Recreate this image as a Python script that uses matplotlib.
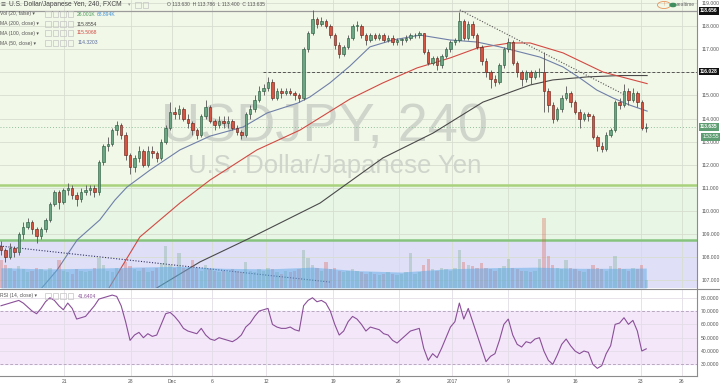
import numpy as np
import matplotlib
matplotlib.use("Agg")
import matplotlib.pyplot as plt
import matplotlib.transforms as mtrans
from matplotlib.patches import Rectangle, Circle

plt.rcParams['font.family'] = ['Liberation Sans', 'DejaVu Sans']

# USDJPY 240 - velas
first_open = 108.5
closes = [108.3, 108.0, 108.4, 108.2, 109.0, 109.3, 109.5, 109.2, 108.9, 109.2,
          109.6, 110.3, 110.8, 110.4, 110.9, 111.0, 110.7, 110.5, 110.8, 110.9,
          111.0, 110.8, 112.1, 112.8, 112.9, 113.5, 113.7, 113.3, 112.4, 111.9,
          112.3, 112.6, 112.0, 112.6, 112.5, 112.3, 113.0, 113.6, 114.3, 114.2,
          114.4, 114.0, 113.8, 113.5, 113.3, 114.1, 114.5, 113.9, 113.7, 113.9,
          113.8, 113.9, 113.6, 113.4, 113.3, 114.2, 114.4, 114.8, 115.2, 115.3,
          115.6, 114.9, 115.2, 115.1, 115.2, 115.1, 115.0, 114.9, 117.0, 117.7,
          118.3, 118.1, 118.2, 118.0, 117.6, 117.2, 116.8, 117.1, 117.5, 118.0,
          118.0, 117.6, 117.4, 117.6, 117.5, 117.6, 117.4, 117.5, 117.3, 117.4,
          117.4, 117.5, 117.6, 117.6, 117.7, 116.9, 116.4, 116.6, 116.3, 116.7,
          117.0, 117.3, 117.4, 118.2, 117.5, 118.1, 117.6, 117.1, 116.5, 116.0,
          115.7, 115.6, 116.3, 117.0, 117.3, 116.4, 116.0, 115.7, 116.0, 115.8,
          116.0, 116.0, 115.2, 114.6, 114.0, 114.4, 114.9, 115.1, 114.7, 114.3,
          114.0, 114.2, 114.1, 113.2, 112.8, 112.7, 113.3, 113.5, 114.7, 114.6,
          115.2, 114.8, 115.1, 114.7, 113.6, 113.635]
highs = [108.7, 108.4, 108.6, 108.5, 109.1, 109.5, 109.7, 109.6, 109.3, 109.3,
         109.7, 110.4, 110.9, 110.9, 111.0, 111.2, 111.1, 110.8, 111.0, 111.1,
         111.1, 111.1, 112.2, 112.9, 113.2, 113.6, 113.9, 113.8, 113.4, 112.5,
         112.4, 112.8, 112.7, 112.8, 112.8, 112.6, 113.1, 113.7, 114.7, 114.5,
         114.6, 114.5, 114.2, 113.9, 113.6, 114.2, 114.8, 114.6, 114.0, 114.1,
         114.1, 114.1, 114.0, 113.7, 113.5, 114.3, 114.6, 115.0, 115.4, 115.5,
         115.8, 115.7, 115.3, 115.3, 115.3, 115.3, 115.2, 115.1, 117.1, 117.8,
         118.7, 118.4, 118.4, 118.3, 118.1, 117.7, 117.3, 117.2, 117.6, 118.1,
         118.2, 118.1, 117.7, 117.7, 117.7, 117.7, 117.7, 117.6, 117.6, 117.5,
         117.5, 117.6, 117.7, 117.7, 117.8, 117.7, 117.0, 116.7, 116.7, 116.8,
         117.1, 117.4, 117.5, 118.6, 118.3, 118.2, 118.2, 117.7, 117.2, 116.6,
         116.1, 115.9, 116.4, 117.1, 117.5, 117.4, 116.5, 116.1, 116.1, 116.1,
         116.1, 116.2, 116.9, 115.3, 114.7, 114.5, 115.0, 115.4, 115.2, 114.8,
         114.4, 114.3, 114.3, 114.2, 113.3, 113.0, 113.4, 113.6, 114.8, 114.9,
         115.5, 115.3, 115.3, 115.2, 114.8, 113.786]
lows = [108.1, 107.8, 107.9, 108.0, 108.1, 108.8, 109.2, 109.0, 108.6, 108.8,
        109.1, 109.5, 110.2, 110.1, 110.3, 110.7, 110.5, 110.2, 110.4, 110.7,
        110.7, 110.6, 110.7, 112.0, 112.6, 112.8, 113.3, 113.1, 112.2, 111.6,
        111.7, 112.1, 111.9, 111.9, 112.3, 112.1, 112.2, 112.9, 113.5, 114.0,
        114.0, 113.9, 113.6, 113.3, 113.1, 113.2, 114.0, 113.8, 113.5, 113.6,
        113.6, 113.6, 113.5, 113.3, 113.1, 113.2, 114.0, 114.3, 114.7, 115.0,
        115.2, 114.8, 114.8, 114.9, 115.0, 115.0, 114.8, 114.7, 114.8, 116.9,
        117.6, 117.9, 118.0, 117.9, 117.5, 117.0, 116.6, 116.7, 117.0, 117.4,
        117.8, 117.5, 117.2, 117.3, 117.4, 117.4, 117.3, 117.3, 117.2, 117.2,
        117.2, 117.3, 117.4, 117.5, 117.5, 116.8, 116.3, 116.3, 116.1, 116.2,
        116.6, 116.9, 117.2, 117.3, 117.4, 117.4, 117.5, 117.0, 116.3, 115.8,
        115.3, 115.4, 115.5, 116.2, 116.9, 116.3, 115.8, 115.4, 115.6, 115.5,
        115.7, 115.8, 114.3, 114.3, 113.8, 113.9, 114.3, 114.8, 114.5, 114.2,
        113.6, 113.9, 113.9, 113.1, 112.6, 112.55, 112.6, 113.2, 113.4, 114.4,
        114.5, 114.6, 114.7, 114.5, 113.5, 113.4]

# volumen en miles
volume_k = [95, 80, 70, 60, 75, 65, 55, 60, 70, 65,
            60, 70, 55, 95, 60, 55, 50, 65, 60, 55,
            60, 70, 105, 80, 60, 55, 70, 65, 90, 75,
            65, 60, 70, 55, 60, 70, 85, 145, 80, 70,
            120, 70, 65, 95, 70, 60, 80, 65, 60, 55,
            60, 55, 65, 60, 55, 90, 60, 55, 65, 60,
            70, 65, 55, 50, 60, 55, 60, 65, 130, 105,
            80, 70, 60, 90, 65, 70, 60, 55, 60, 65,
            60, 55, 50, 55, 50, 45, 50, 55, 50, 45,
            50, 55, 120, 50, 55, 80, 100, 65, 60, 70,
            65, 60, 70, 130, 90, 80, 75, 70, 85, 70,
            65, 60, 70, 75, 100, 70, 65, 60, 60, 55,
            60, 100, 240, 110, 80, 70, 65, 95, 70, 65,
            60, 55, 65, 80, 70, 65, 60, 75, 110, 70,
            65, 60, 70, 65, 80, 26]
vol_ma_at = [0, 10, 20, 30, 40, 50, 60, 70, 80, 90, 100, 110, 120, 130, 140, 145]
vol_ma = [70, 66, 68, 72, 75, 68, 66, 72, 60, 55, 66, 70, 72, 68, 68, 68.9]

rsi = [74, 75, 76, 77, 78, 76, 73, 70, 68, 72,
       77, 80, 78, 74, 71, 76, 72, 64, 65, 66,
       70, 74, 79, 80, 81, 82, 81, 74, 62, 48,
       52, 54, 50, 53, 51, 52, 60, 68, 69, 66,
       62, 57, 55, 54, 53, 57, 52, 49, 48, 50,
       49, 48, 47, 49, 52, 58, 61, 66, 70, 71,
       72, 60, 58, 57, 57, 58, 56, 55, 74, 78,
       80, 77, 78, 76, 70, 60, 52, 55, 62, 66,
       64, 60, 55, 58, 57, 56, 53, 52, 48, 46,
       49, 52, 55, 56, 57, 42, 33, 38, 35, 42,
       50, 58, 62, 76, 64, 72, 62, 52, 42, 32,
       36, 38, 48, 60, 64, 52, 45, 43, 47, 46,
       49, 50, 40, 33, 30, 37, 45, 49, 44, 40,
       38, 40, 39, 30, 27, 29, 38, 44, 60, 61,
       65, 60, 63, 55, 40, 41.64]

# medias moviles (indice de vela, precio)
ma50_at = [7.6, 12.6, 17.1, 22.2, 25.6, 28.3, 33.5, 40.2, 47.0, 54.4, 59.8, 66.7, 69.4, 73.9,
           78.4, 82.9, 88.1, 94.2, 100.9, 107.0, 112.1, 116.6, 121.1, 126.3, 130.1, 133.9,
           137.5, 141.3, 145.2]
ma50 = [106.31, 107.44, 108.74, 109.61, 110.47, 111.03, 111.77, 112.64, 113.24, 113.63, 114.24,
        114.67, 114.93, 115.54, 116.27, 117.10, 117.40, 117.61, 117.40, 117.31, 117.10, 116.88,
        116.66, 116.23, 115.75, 115.23, 114.89, 114.58, 114.32]
ma100_at = [24.0, 31.2, 40.2, 47.0, 57.5, 67.2, 78.4, 85.8, 93.5, 100.9, 107.0, 114.4, 118.9,
            126.3, 135.3, 145.2]
ma100 = [106.58, 108.87, 110.34, 111.34, 112.64, 113.50, 114.84, 115.54, 116.19, 116.62, 117.05,
         117.27, 117.27, 116.84, 116.01, 115.51]
ma200_at = [33.5, 44.7, 56.0, 71.7, 85.8, 97.1, 108.3, 118.9, 124.0, 131.7, 139.1, 145.2]
ma200 = [106.49, 107.79, 108.83, 110.34, 112.29, 113.37, 114.71, 115.45, 115.67, 115.80,
         115.86, 115.86]

# dibujos: lineas de tendencia y niveles
trend_down_at = [103.1, 140.2]
trend_down = [118.70, 115.02]
trend_low_at = [-0.2, 73.9]
trend_low = [108.48, 106.92]
level_dashed = 116.028
level_dashed_from = 58.9
level_top = 118.656
last_close = 113.635
zone_top = 111.12
zone_bottom = 108.74

price_ticks = [119, 118, 117, 115, 114, 113, 112, 111, 110, 109, 108, 107]
rsi_ticks = [80, 70, 60, 50, 40, 30]
time_pos = [14.2, 29.2, 38.4, 47.4, 59.6, 74.6, 89.4, 101.3, 113.9, 129.0, 143.8, 153.0]
time_labels = ['21', '28', 'Dec', '6', '12', '19', '26', '2017', '9', '16', '23', '26']

W, H = 720, 384
fig = plt.figure(figsize=(7.2, 3.84), dpi=100)
fig.patch.set_facecolor('white')


def fx(px):
    return px / W


def fy(py):
    return 1 - py / H


x_lim = (-1 / 4.45, 696 / 4.45)
ax = fig.add_axes([0, fy(288), fx(697), 288 / H])
ax_rsi = fig.add_axes([0, fy(376), fx(697), (376 - 289) / H])

n = len(closes)
idx = np.arange(n)
opens = np.array([first_open] + closes[:-1])
closes_a = np.array(closes)
up = closes_a >= opens

# ---- panel principal ----
ax.set_xlim(*x_lim)
ax.set_ylim(119.13 - 288 / 23.1, 119.13)
ax.axhspan(zone_top, 120, color='#f2f8e8', zorder=0)
ax.axhspan(zone_bottom, zone_top, color='#e7f6e5', zorder=0)
ax.axhspan(100, zone_bottom, color='#dfe0f8', zorder=0)
for t in time_pos:
    ax.axvline(t, color='#d7ddd0', lw=0.6, zorder=0.5)
    ax_rsi.axvline(t, color='#e2dde6', lw=0.6, zorder=0.5)
for p in range(107, 120):
    ax.axhline(p, color='#d7ddd0', lw=0.6, zorder=0.5)
ax.axhline(zone_top, color='#a9d27c', lw=1.8, zorder=1)
ax.axhline(zone_bottom, color='#86c47e', lw=1.8, zorder=1)

ax.text(0.465, 0.56, 'USDJPY, 240', transform=ax.transAxes, fontsize=39, color='#cfd5cb',
        ha='center', va='center', zorder=0.6)
ax.text(0.48, 0.425, 'U.S. Dollar/Japanese Yen', transform=ax.transAxes, fontsize=18.5,
        color='#cfd5cb', ha='center', va='center', zorder=0.6)

# volumen sobre eje gemelo
axv = ax.twinx()
axv.set_ylim(0, 994)
axv.set_xlim(*x_lim)
vcol = np.where(up, '#6ba583', '#d75442')
axv.bar(idx, volume_k, width=0.75, color=vcol, alpha=0.3, zorder=1)
axv.fill_between(idx, 0, np.interp(idx, vol_ma_at, vol_ma), color='#5aaae6', alpha=0.5, lw=0,
                 zorder=2)
axv.axis('off')

ax.plot(ma200_at, ma200, color='#4a4a4a', lw=0.8, zorder=3)
ax.plot(ma100_at, ma100, color='#d24a43', lw=0.8, zorder=3)
ax.plot(ma50_at, ma50, color='#6f7fa8', lw=0.8, zorder=3)

ax.axhline(level_top, color='#9b9b9b', lw=0.9, zorder=2)
ax.plot([level_dashed_from, x_lim[1]], [level_dashed, level_dashed], color='#555555', lw=0.7,
        ls=(0, (3, 2)), zorder=2)
ax.axhline(last_close, color='#8fbf9a', lw=0.7, ls=(0, (1, 2)), zorder=2)
ax.plot(trend_down_at, trend_down, color='#555555', lw=0.8, ls=(0, (1, 1.5)), zorder=3)
ax.plot(trend_low_at, trend_low, color='#333366', lw=0.8, ls=(0, (1, 1.5)), zorder=3)

body_lo = np.minimum(opens, closes_a)
body_h = np.maximum(np.abs(closes_a - opens), 0.03)
ax.vlines(idx, lows, highs, color='#555555', lw=0.6, zorder=4)
ax.bar(idx, body_h, bottom=body_lo, width=0.55, color=np.where(up, '#6ba583', '#d75442'),
       edgecolor=np.where(up, '#225437', '#5b1a13'), lw=0.4, zorder=5)

ax.set_yticks(price_ticks)
ax.set_yticklabels(['%.3f' % p for p in price_ticks])
ax.yaxis.tick_right()
ax.tick_params(axis='y', length=0, labelsize=3.6, labelcolor='#555555', pad=3)
ax.set_xticks([])
for s in ['left', 'top', 'bottom']:
    ax.spines[s].set_visible(False)
ax.spines['right'].set_color('#8c8c8c')
ax.spines['right'].set_linewidth(0.8)

tr = mtrans.blended_transform_factory(ax.transAxes, ax.transData)
for val, txt, bg in [(level_top, '118.656', '#111111'), (level_dashed, '116.028', '#111111'),
                     (last_close, '113.635', '#5e9e72')]:
    ax.text(1.004, val, txt, transform=tr, fontsize=3.6, color='white', ha='left', va='center',
            fontweight='bold', clip_on=False, zorder=10,
            bbox=dict(boxstyle='square,pad=0.25', fc=bg, ec='none'))
ax.text(1.008, last_close - 0.43, '1:53:55', transform=tr, fontsize=3.6, color='white', ha='left',
        va='center', clip_on=False, zorder=10, bbox=dict(boxstyle='square,pad=0.25', fc='#5e9e72', ec='none'))

# ---- panel RSI ----
ax_rsi.set_xlim(*x_lim)
ax_rsi.set_ylim(30 - 12 / 1.37, 80 + 9 / 1.37)
ax_rsi.axhspan(30, 70, color='#f4e7fa', zorder=0)
for r in [80, 60, 50, 40]:
    ax_rsi.axhline(r, color='#e4dde8', lw=0.6, zorder=0.5)
ax_rsi.axhline(70, color='#b8a8c0', lw=0.7, ls=(0, (3, 2)), zorder=1)
ax_rsi.axhline(30, color='#b8a8c0', lw=0.7, ls=(0, (3, 2)), zorder=1)
ax_rsi.plot(idx, rsi, color='#8a4f98', lw=0.8, zorder=3)
ax_rsi.set_yticks(rsi_ticks)
ax_rsi.set_yticklabels(['%.4f' % r for r in rsi_ticks])
ax_rsi.yaxis.tick_right()
ax_rsi.tick_params(axis='y', length=0, labelsize=3.6, labelcolor='#555555', pad=3)
ax_rsi.set_xticks(time_pos)
ax_rsi.set_xticklabels(time_labels)
ax_rsi.tick_params(axis='x', length=0, labelsize=3.6, labelcolor='#555555', pad=2)
ax_rsi.spines['top'].set_visible(False)
ax_rsi.spines['left'].set_visible(False)
for s in ['right', 'bottom']:
    ax_rsi.spines[s].set_color('#8c8c8c')
    ax_rsi.spines[s].set_linewidth(0.8)
fig.add_artist(plt.Line2D([0, 1], [fy(288.5), fy(288.5)], color='#8c8c8c', lw=0.8))


# ---- textos de cabecera ----
def icons(x0, y0, count):
    for k in range(count):
        fig.add_artist(Rectangle((fx(x0 + k * 7.5), fy(y0 + 2.5)), fx(5.5), 5.5 / H, fill=False,
                                 ec='#c4c4c4', lw=0.5))


fig.text(fx(1), fy(5), '\u2261', fontsize=6, color='#555555', va='center')
fig.text(fx(9), fy(5), 'U.S. Dollar/Japanese Yen, 240, FXCM', fontsize=4.8, color='#444444',
         va='center')
fig.text(fx(128), fy(5), '\u25be', fontsize=3.5, color='#999999', va='center')
icons(135, 5, 2)
fig.text(fx(167), fy(5), 'O 113.630  H 113.786  L 113.400  C 113.635', fontsize=3.6, color='#555555',
         va='center')

rows = [('Vol (20, false)', 14, [('26.001K', '#4a9a5a', 77), ('68.894K', '#3f8fd6', 97)]),
        ('MA (200, close)', 24, [('115.8554', '#444444', 77)]),
        ('MA (100, close)', 33, [('115.5068', '#d24a43', 77)]),
        ('MA (50, close)', 43, [('114.3203', '#5a6b9e', 78)])]
for name, yy, vals in rows:
    fig.text(fx(0), fy(yy), name + ' \u25be', fontsize=3.6, color='#555555', va='center')
    icons(45, yy, 4)
    for txt, col, xx in vals:
        fig.text(fx(xx), fy(yy), txt, fontsize=3.6, color=col, va='center')

fig.text(fx(0), fy(296), 'RSI (14, close) \u25be', fontsize=3.6, color='#555555', va='center')
icons(45, 296, 4)
fig.text(fx(78), fy(296), '41.6404', fontsize=3.6, color='#8a4f98', va='center')

fig.add_artist(Circle((fx(664), fy(5)), 3.5 / H, transform=fig.transFigure, fill=False, ec='#e8925a',
                      lw=0.6))
fig.text(fx(664), fy(5), '!', fontsize=3.5, color='#e8925a', ha='center', va='center')
fig.add_artist(Circle((fx(673), fy(5)), 1.6 / H, transform=fig.transFigure, color='#3f8f5f'))
fig.text(fx(677), fy(5), 'realtime', fontsize=3.6, color='#666666', va='center')

fig.savefig('out.png', dpi=100)
